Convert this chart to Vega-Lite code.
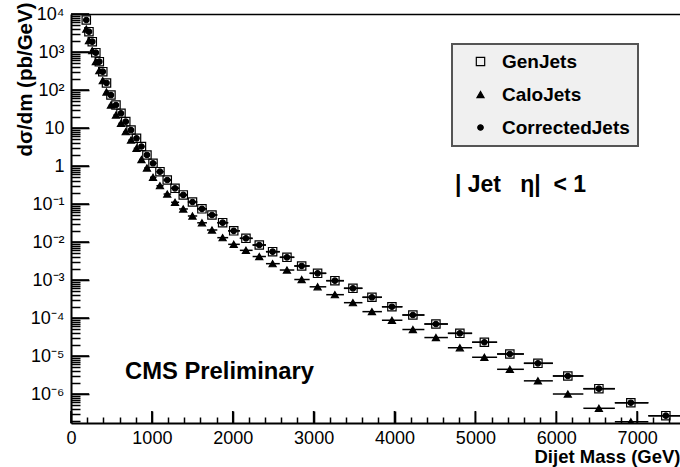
{
  "$schema": "https://vega.github.io/schema/vega-lite/v6.json",
  "width": 609,
  "height": 409,
  "autosize": {"type": "none"},
  "padding": {"left": 71, "top": 14, "right": 0, "bottom": 44},
  "background": "white",
  "config": {
    "view": {"stroke": null},
    "font": "Liberation Sans",
    "legend": {"strokeWidth": 2}
  },
  "data": {
    "values": [
      {"m": 189, "lo": 173, "hi": 205.5, "GenJets": 6950, "CaloJets": 4030, "CorrectedJets": 6950},
      {"m": 222, "lo": 205.5, "hi": 242.5, "GenJets": 3420, "CaloJets": 1984, "CorrectedJets": 3420},
      {"m": 263, "lo": 242.5, "hi": 285, "GenJets": 1866, "CaloJets": 1082, "CorrectedJets": 1866},
      {"m": 307, "lo": 285, "hi": 328.5, "GenJets": 960, "CaloJets": 557, "CorrectedJets": 960},
      {"m": 350, "lo": 328.5, "hi": 371.5, "GenJets": 556, "CaloJets": 322, "CorrectedJets": 556},
      {"m": 393, "lo": 371.5, "hi": 416, "GenJets": 303, "CaloJets": 176, "CorrectedJets": 303},
      {"m": 439, "lo": 416, "hi": 466.5, "GenJets": 153, "CaloJets": 88.7, "CorrectedJets": 153},
      {"m": 494, "lo": 466.5, "hi": 525, "GenJets": 73.8, "CaloJets": 40.2, "CorrectedJets": 73.8},
      {"m": 556, "lo": 525, "hi": 587, "GenJets": 40.3, "CaloJets": 22.0, "CorrectedJets": 40.3},
      {"m": 618, "lo": 587, "hi": 647.5, "GenJets": 24.4, "CaloJets": 13.3, "CorrectedJets": 24.4},
      {"m": 677, "lo": 647.5, "hi": 709.5, "GenJets": 14.7, "CaloJets": 8.01, "CorrectedJets": 14.7},
      {"m": 742, "lo": 709.5, "hi": 776, "GenJets": 8.85, "CaloJets": 4.82, "CorrectedJets": 8.85},
      {"m": 810, "lo": 776, "hi": 840.5, "GenJets": 5.36, "CaloJets": 2.92, "CorrectedJets": 5.36},
      {"m": 871, "lo": 840.5, "hi": 905, "GenJets": 3.26, "CaloJets": 1.48, "CorrectedJets": 3.26},
      {"m": 939, "lo": 905, "hi": 976.5, "GenJets": 1.95, "CaloJets": 0.887, "CorrectedJets": 1.95},
      {"m": 1014, "lo": 976.5, "hi": 1057, "GenJets": 1.18, "CaloJets": 0.505, "CorrectedJets": 1.18},
      {"m": 1100, "lo": 1057, "hi": 1145, "GenJets": 0.708, "CaloJets": 0.303, "CorrectedJets": 0.708},
      {"m": 1190, "lo": 1145, "hi": 1238, "GenJets": 0.428, "CaloJets": 0.183, "CorrectedJets": 0.428},
      {"m": 1286, "lo": 1238, "hi": 1337, "GenJets": 0.259, "CaloJets": 0.111, "CorrectedJets": 0.259},
      {"m": 1388, "lo": 1337, "hi": 1445, "GenJets": 0.173, "CaloJets": 0.074, "CorrectedJets": 0.173},
      {"m": 1502, "lo": 1445, "hi": 1560.5, "GenJets": 0.113, "CaloJets": 0.0484, "CorrectedJets": 0.113},
      {"m": 1619, "lo": 1560.5, "hi": 1681, "GenJets": 0.0748, "CaloJets": 0.032, "CorrectedJets": 0.0748},
      {"m": 1743, "lo": 1681, "hi": 1809, "GenJets": 0.0514, "CaloJets": 0.0207, "CorrectedJets": 0.0514},
      {"m": 1875, "lo": 1809, "hi": 1943.5, "GenJets": 0.0322, "CaloJets": 0.013, "CorrectedJets": 0.0322},
      {"m": 2012, "lo": 1943.5, "hi": 2087.5, "GenJets": 0.0197, "CaloJets": 0.00869, "CorrectedJets": 0.0197},
      {"m": 2163, "lo": 2087.5, "hi": 2245.5, "GenJets": 0.0125, "CaloJets": 0.00604, "CorrectedJets": 0.0125},
      {"m": 2328, "lo": 2245.5, "hi": 2410.5, "GenJets": 0.00834, "CaloJets": 0.00415, "CorrectedJets": 0.00834},
      {"m": 2493, "lo": 2410.5, "hi": 2581.5, "GenJets": 0.00556, "CaloJets": 0.00269, "CorrectedJets": 0.00556},
      {"m": 2670, "lo": 2581.5, "hi": 2761, "GenJets": 0.00396, "CaloJets": 0.00183, "CorrectedJets": 0.00396},
      {"m": 2852, "lo": 2761, "hi": 2950.5, "GenJets": 0.00234, "CaloJets": 0.00103, "CorrectedJets": 0.00234},
      {"m": 3049, "lo": 2950.5, "hi": 3156, "GenJets": 0.0015, "CaloJets": 6.62e-4, "CorrectedJets": 0.0015},
      {"m": 3263, "lo": 3156, "hi": 3374.5, "GenJets": 9.6e-4, "CaloJets": 4.11e-4, "CorrectedJets": 9.6e-4},
      {"m": 3486, "lo": 3374.5, "hi": 3603.5, "GenJets": 6.05e-4, "CaloJets": 2.53e-4, "CorrectedJets": 6.05e-4},
      {"m": 3721, "lo": 3603.5, "hi": 3844.5, "GenJets": 3.51e-4, "CaloJets": 1.47e-4, "CorrectedJets": 3.51e-4},
      {"m": 3968, "lo": 3844.5, "hi": 4097.5, "GenJets": 1.98e-4, "CaloJets": 8.73e-5, "CorrectedJets": 1.98e-4},
      {"m": 4227, "lo": 4097.5, "hi": 4369.5, "GenJets": 1.2e-4, "CaloJets": 4.98e-5, "CorrectedJets": 1.2e-4},
      {"m": 4512, "lo": 4369.5, "hi": 4660, "GenJets": 6.95e-5, "CaloJets": 3.06e-5, "CorrectedJets": 6.95e-5},
      {"m": 4808, "lo": 4660, "hi": 4959.5, "GenJets": 3.95e-5, "CaloJets": 1.65e-5, "CorrectedJets": 3.95e-5},
      {"m": 5111, "lo": 4959.5, "hi": 5268.5, "GenJets": 2.3e-5, "CaloJets": 9.27e-6, "CorrectedJets": 2.3e-5},
      {"m": 5426, "lo": 5268.5, "hi": 5599.5, "GenJets": 1.13e-5, "CaloJets": 4.47e-6, "CorrectedJets": 1.13e-5},
      {"m": 5773, "lo": 5599.5, "hi": 5958, "GenJets": 6.43e-6, "CaloJets": 2.22e-6, "CorrectedJets": 6.43e-6},
      {"m": 6143, "lo": 5958, "hi": 6335, "GenJets": 2.98e-6, "CaloJets": 1.0e-6, "CorrectedJets": 2.98e-6},
      {"m": 6527, "lo": 6335, "hi": 6724.5, "GenJets": 1.38e-6, "CaloJets": 4.21e-7, "CorrectedJets": 1.38e-6},
      {"m": 6922, "lo": 6724.5, "hi": 7138.5, "GenJets": 5.9e-7, "CaloJets": 1.86e-7, "CorrectedJets": 5.9e-7},
      {"m": 7355, "lo": 7138.5, "hi": 7571.5, "GenJets": 2.69e-7, "CaloJets": null, "CorrectedJets": 2.69e-7}
    ]
  },
  "layer": [
    {
      "transform": [
        {"fold": ["GenJets", "CaloJets", "CorrectedJets"], "as": ["series", "v"]},
        {"filter": "isValid(datum.v)"}
      ],
      "mark": {"type": "rule", "clip": true, "color": "black", "strokeWidth": 1.5},
      "encoding": {
        "x": {
          "field": "lo", "type": "quantitative",
          "scale": {"domain": [0, 7530], "nice": false, "zero": false},
          "axis": {
            "orient": "bottom",
            "values": [0, 1000, 2000, 3000, 4000, 5000, 6000, 7000],
            "format": "d",
            "ticks": false,
            "domainColor": "black", "domainWidth": 2,
            "labelFontSize": 18, "labelColor": "black", "labelPadding": 6,
            "labelFlush": false, "labelOverlap": false, "labelBound": false,
            "grid": false,
            "title": "Dijet Mass (GeV)", "titleAnchor": "end", "titleFontSize": 18.5,
            "titleFontWeight": "bold", "titleColor": "black",
            "titleBaseline": "alphabetic", "titleY": 39.5
          }
        },
        "x2": {"field": "hi"},
        "y": {
          "field": "v", "type": "quantitative",
          "scale": {"type": "log", "domain": [1.726e-7, 10000], "nice": false},
          "axis": {
            "orient": "left",
            "values": [1e-6, 1e-5, 1e-4, 1e-3, 1e-2, 1e-1, 1, 10, 100, 1000, 10000],
            "labelExpr": "round(log(datum.value)/LN10) == 0 ? '1' : round(log(datum.value)/LN10) == 1 ? '10' : '10' + (datum.value < 1 ? '⁻' : '') + ['⁰','¹','²','³','⁴','⁵','⁶','⁷','⁸','⁹'][abs(round(log(datum.value)/LN10))]",
            "ticks": false,
            "domainColor": "black", "domainWidth": 2,
            "labelFontSize": 18, "labelColor": "black", "labelPadding": 7,
            "labelFlush": false, "labelOverlap": false, "labelBound": false,
            "grid": false,
            "title": "dσ/dm (pb/GeV)", "titleFontSize": 20.5, "titleFontWeight": "bold",
            "titleColor": "black", "titleAnchor": "end", "titleAngle": -90,
            "titleAlign": "right", "titleBaseline": "alphabetic", "titleX": -40, "titleY": -12
          }
        }
      }
    },
    {
      "transform": [
        {"fold": ["GenJets", "CaloJets", "CorrectedJets"], "as": ["series", "v"]},
        {"filter": "isValid(datum.v)"}
      ],
      "mark": {"type": "point", "filled": true, "clip": true, "stroke": "black", "strokeWidth": 1.2, "opacity": 1},
      "encoding": {
        "x": {
          "field": "m", "type": "quantitative",
          "axis": {"orient": "bottom", "values": [0, 1000, 2000, 3000, 4000, 5000, 6000, 7000], "labels": false, "domain": false, "tickSize": 12, "offset": -12, "tickColor": "black", "tickWidth": 1.6, "title": null, "grid": false}
        },
        "y": {
          "field": "v", "type": "quantitative",
          "axis": {"orient": "left", "values": [1e-6, 1e-5, 1e-4, 1e-3, 1e-2, 1e-1, 1, 10, 100, 1000, 10000], "labels": false, "domain": false, "tickSize": 18, "offset": -18, "tickColor": "black", "tickWidth": 1.6, "title": null, "grid": false}
        },
        "shape": {
          "field": "series", "type": "nominal",
          "scale": {"domain": ["GenJets", "CaloJets", "CorrectedJets"], "range": ["square", "triangle-up", "circle"]},
          "legend": {
            "title": null, "orient": "none", "legendX": 381, "legendY": 30,
            "fillColor": "#f0f0f0", "strokeColor": "#555555", "padding": 8,
            "labelFontSize": 19, "labelFontWeight": "bold", "labelColor": "black",
            "rowPadding": 13, "labelOffset": 12, "symbolOffset": 11,
            "symbolStrokeColor": "black", "symbolStrokeWidth": 1.2
          }
        },
        "fill": {
          "field": "series", "type": "nominal",
          "scale": {"domain": ["GenJets", "CaloJets", "CorrectedJets"], "range": ["transparent", "black", "black"]},
          "legend": {"title": null}
        },
        "size": {
          "field": "series", "type": "nominal",
          "scale": {"domain": ["GenJets", "CaloJets", "CorrectedJets"], "range": [70, 30, 12]},
          "legend": {"title": null}
        }
      }
    },
    {
      "data": {"values": [{"t": 1e-6}, {"t": 1e-5}, {"t": 1e-4}, {"t": 1e-3}, {"t": 1e-2}, {"t": 0.1}, {"t": 1}, {"t": 10}, {"t": 100}, {"t": 1000}, {"t": 10000}]},
      "mark": {"type": "rule", "color": "black", "strokeWidth": 1.6},
      "encoding": {
        "x": {"datum": 0, "type": "quantitative", "axis": null},
        "x2": {"datum": 222.5},
        "y": {"field": "t", "type": "quantitative", "axis": null}
      }
    },
    {
      "data": {"values": [{"t": 0}, {"t": 1000}, {"t": 2000}, {"t": 3000}, {"t": 4000}, {"t": 5000}, {"t": 6000}, {"t": 7000}]},
      "mark": {"type": "rule", "color": "black", "strokeWidth": 1.6},
      "encoding": {
        "x": {"field": "t", "type": "quantitative", "axis": null},
        "y": {"datum": 1.726e-7, "type": "quantitative", "axis": null},
        "y2": {"datum": 3.571e-7}
      }
    },
    {
      "data": {"values": [{}]},
      "mark": {"type": "text", "font": "Liberation Sans", "fontSize": 23.8, "fontWeight": "bold", "align": "left", "baseline": "alphabetic", "color": "black"},
      "encoding": {
        "x": {
          "datum": 667, "type": "quantitative",
          "axis": {"orient": "bottom", "values": [200,400,600,800,1200,1400,1600,1800,2200,2400,2600,2800,3200,3400,3600,3800,4200,4400,4600,4800,5200,5400,5600,5800,6200,6400,6600,6800,7200,7400], "labels": false, "domain": false, "tickSize": 6, "offset": -6, "tickColor": "black", "tickWidth": 1.5, "title": null, "grid": false}
        },
        "y": {
          "datum": 2.48e-6, "type": "quantitative",
          "axis": {"orient": "left", "values": [2e-7,3e-7,4e-7,5e-7,6e-7,7e-7,8e-7,9e-7,
              2e-6,3e-6,4e-6,5e-6,6e-6,7e-6,8e-6,9e-6,
              2e-5,3e-5,4e-5,5e-5,6e-5,7e-5,8e-5,9e-5,
              2e-4,3e-4,4e-4,5e-4,6e-4,7e-4,8e-4,9e-4,
              2e-3,3e-3,4e-3,5e-3,6e-3,7e-3,8e-3,9e-3,
              0.02,0.03,0.04,0.05,0.06,0.07,0.08,0.09,
              0.2,0.3,0.4,0.5,0.6,0.7,0.8,0.9,
              2,3,4,5,6,7,8,9,
              20,30,40,50,60,70,80,90,
              200,300,400,500,600,700,800,900,
              2000,3000,4000,5000,6000,7000,8000,9000], "labels": false, "domain": false, "tickSize": 9, "offset": -9, "tickColor": "black", "tickWidth": 1.5, "title": null, "grid": false}
        },
        "text": {"value": "CMS Preliminary"}
      }
    },
    {
      "data": {"values": [{}]},
      "mark": {"type": "text", "font": "Liberation Sans", "fontSize": 23, "fontWeight": "bold", "align": "left", "baseline": "alphabetic", "color": "black"},
      "encoding": {
        "x": {
          "datum": 4747, "type": "quantitative",
          "axis": {"orient": "top", "labels": false, "ticks": false, "title": null, "grid": false, "domainColor": "black", "domainWidth": 1.5}
        },
        "y": {"datum": 0.207, "type": "quantitative", "axis": null},
        "text": {"value": "| Jet\u00a0\u00a0 η|\u00a0 < 1"}
      }
    }
  ],
  "resolve": {"axis": {"x": "independent", "y": "independent"}}
}
